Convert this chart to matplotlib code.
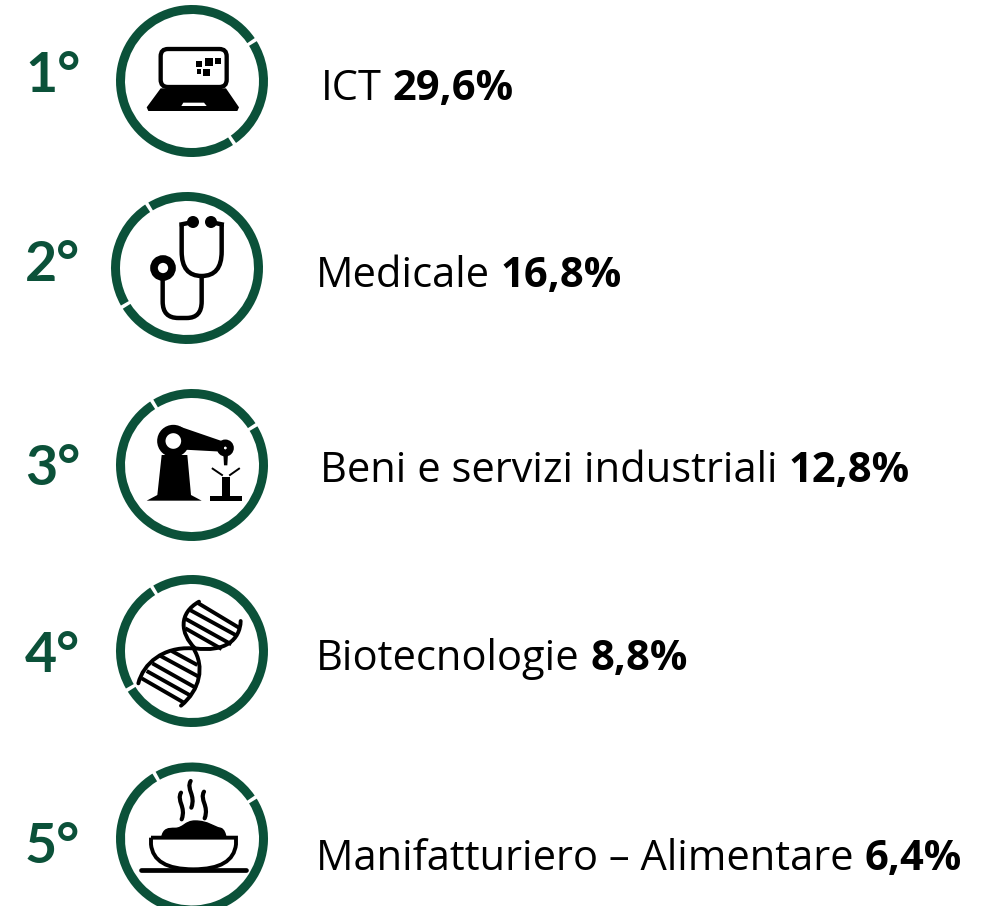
import matplotlib
matplotlib.use('Agg')
import matplotlib.pyplot as plt
from matplotlib.patches import Wedge, Circle, Polygon, Rectangle, FancyBboxPatch, PathPatch
from matplotlib.path import Path
from matplotlib.transforms import Affine2D

ranks = ['1°', '2°', '3°', '4°', '5°']
sectors = ['ICT', 'Medicale', 'Beni e servizi industriali', 'Biotecnologie', 'Manifatturiero – Alimentare']
shares = ['29,6%', '16,8%', '12,8%', '8,8%', '6,4%']

GREEN = '#0b5139'

fig = plt.figure(figsize=(9.97, 9.11), dpi=100)
ax = fig.add_axes([0, 0, 1, 1])
ax.set_xlim(0, 997)
ax.set_ylim(911, 0)
ax.axis('off')

# circle centres and the gaps in each ring (degrees, y pointing up on the page)
centres = [(192, 81), (187, 268), (192, 465), (192, 651), (192, 838.5)]
gaps = [(33, -56), (122, 211), (122, 32), (122, 211), (120, 33)]
crops = [(100, 0), (100, 185), (100, 380), (100, 565), (100, 741)]
rank_xy = [(25, 92), (25, 281), (25, 485), (25, 672), (25, 863)]
label_xy = [(321, 100), (316, 287), (320, 482), (316, 670), (316, 870)]


def ring(cx, cy, gap_angles):
    # y axis is flipped, so page angle a is -a in data space
    a, b = sorted(g % 360 for g in gap_angles)
    pad = 1.4
    for start, end in [(a + pad, b - pad), (b + pad, a + 360 - pad)]:
        w = Wedge((cx, cy), 76, -end, -start, width=9, fc=GREEN, ec='none')
        ax.add_patch(w)
        w.set_clip_path(Rectangle((0, 0), 997, 906, transform=ax.transData))


def curve(points, tr, lw):
    codes = [Path.MOVETO] + [Path.CURVE4] * (len(points) - 1)
    ax.add_patch(PathPatch(Path(points, codes), fc='none', ec='black', lw=lw,
                           capstyle='round', transform=tr))


def laptop(tr):
    ax.add_patch(Polygon([(182, 265), (140, 322), (145, 333), (412, 333), (417, 322), (378, 265)],
                         fc='black', ec='none', transform=tr))
    ax.add_patch(FancyBboxPatch((182, 147), 198, 114, boxstyle='round,pad=0,rounding_size=22',
                                fc='white', ec='black', lw=3.1, transform=tr))
    ax.add_patch(Polygon([(250, 308), (312, 308), (320, 318), (244, 318)], fc='white', ec='none', transform=tr))
    for x, y, s in [(288, 183, 18), (314, 173, 25), (345, 173, 18), (290, 208, 13), (310, 208, 20)]:
        ax.add_patch(Rectangle((x, y), s, s, fc='black', ec='none', transform=tr))


def stethoscope(tr):
    lw = 3.2
    ax.add_patch(PathPatch(Path([(245, 118), (245, 200), (245, 273), (305, 273), (365, 273), (365, 200), (365, 118)],
                                [Path.MOVETO, Path.LINETO, Path.CURVE3, Path.CURVE3, Path.CURVE3, Path.CURVE3, Path.LINETO]),
                           fc='none', ec='black', lw=lw, transform=tr))
    ax.plot([245, 270], [118, 113], color='black', lw=lw, transform=tr)
    ax.plot([365, 340], [118, 113], color='black', lw=lw, transform=tr)
    ax.add_patch(Circle((279, 111), 18, fc='black', ec='none', transform=tr))
    ax.add_patch(Circle((333, 111), 18, fc='black', ec='none', transform=tr))
    ax.add_patch(PathPatch(Path([(188, 280), (188, 350), (188, 399), (235, 399), (260, 399), (305, 399), (305, 350), (305, 275)],
                                [Path.MOVETO, Path.LINETO, Path.CURVE3, Path.CURVE3, Path.LINETO, Path.CURVE3, Path.CURVE3, Path.LINETO]),
                           fc='none', ec='black', lw=lw, transform=tr))
    ax.add_patch(Circle((189, 249), 27, fc='white', ec='black', lw=5.5, transform=tr))


def robot(tr):
    ax.add_patch(Polygon([(140, 362), (172, 345), (185, 225), (262, 225), (273, 345), (305, 362)],
                         fc='black', ec='none', transform=tr))
    ax.add_patch(Polygon([(240, 140), (365, 183), (365, 215), (235, 208)], fc='black', ec='none', transform=tr))
    ax.add_patch(Circle((220, 183), 36, fc='white', ec='black', lw=6, transform=tr))
    ax.add_patch(Circle((376, 204), 15, fc='white', ec='black', lw=5, transform=tr))
    ax.add_patch(Polygon([(370, 220), (384, 220), (382, 256), (372, 256)], fc='black', ec='none', transform=tr))
    ax.add_patch(Rectangle((365, 292), 25, 56, fc='black', ec='none', transform=tr))
    ax.add_patch(Rectangle((330, 347), 96, 16, fc='black', ec='none', transform=tr))
    ax.plot([338, 366], [266, 285], color='black', lw=1.4, transform=tr)
    ax.plot([417, 390], [266, 285], color='black', lw=1.4, transform=tr)


def dna(tr):
    lw = 2.8
    # upper lobe
    curve([(297, 110), (235, 145), (240, 205), (285, 250)], tr, lw)
    curve([(422, 168), (420, 225), (375, 262), (285, 250)], tr, lw)
    # lower lobe
    curve([(275, 250), (190, 245), (130, 295), (115, 355)], tr, lw)
    curve([(280, 250), (315, 305), (300, 375), (243, 422)], tr, lw)
    for (x0, y0), (x1, y1) in [((292, 113), (420, 190)), ((270, 135), (412, 213)), ((254, 160), (394, 238)),
                               ((256, 190), (365, 252)),
                               ((215, 258), (292, 300)), ((180, 272), (296, 335)), ((157, 295), (290, 370)),
                               ((140, 318), (272, 392)), ((125, 340), (250, 412))]:
        ax.plot([x0, x1], [y0, y1], color='black', lw=lw, solid_capstyle='butt', transform=tr)


def bowl(tr):
    lw = 2.8
    # steam
    for x, y in [(243, 155), (272, 120), (312, 152)]:
        curve([(x, y), (x - 14, y + 25), (x + 16, y + 42), (x + 2, y + 80)], tr, 3.0)
    # food
    ax.add_patch(PathPatch(Path([(185, 290), (190, 262), (205, 262), (225, 262), (250, 262), (255, 240), (285, 240),
                                 (325, 240), (340, 258), (362, 262), (372, 265), (376, 278), (378, 290), (185, 290)],
                                [Path.MOVETO] + [Path.CURVE4] * 12 + [Path.CLOSEPOLY]),
                           fc='black', ec='black', lw=1, transform=tr))
    # dish
    ax.add_patch(PathPatch(Path([(153, 290), (408, 290), (408, 310), (400, 385), (280, 385), (160, 385), (153, 310), (153, 290)],
                                [Path.MOVETO, Path.LINETO, Path.LINETO, Path.CURVE3, Path.CURVE3, Path.CURVE3, Path.CURVE3, Path.LINETO]),
                           fc='white', ec='black', lw=lw, transform=tr))
    ax.plot([123, 438], [388, 388], color='black', lw=3.4, solid_capstyle='round', transform=tr)


icons = [laptop, stethoscope, robot, dna, bowl]

fig.canvas.draw()
renderer = fig.canvas.get_renderer()

for i in range(5):
    cx, cy = centres[i]
    ring(cx, cy, gaps[i])
    tr = Affine2D().scale(1 / 3).translate(*crops[i]) + ax.transData
    icons[i](tr)

    ax.text(rank_xy[i][0], rank_xy[i][1], ranks[i], color=GREEN, fontsize=40, fontweight='bold',
            family='Lato', ha='left', va='baseline')

    x, y = label_xy[i]
    t = ax.text(x, y, sectors[i], color='black', fontsize=30, family='Open Sans', ha='left', va='baseline')
    w = t.get_window_extent(renderer).width
    ax.text(x + w + 11, y, shares[i], color='black', fontsize=30, fontweight='bold', family='Open Sans',
            ha='left', va='baseline')

fig.savefig('out.png', dpi=100)
